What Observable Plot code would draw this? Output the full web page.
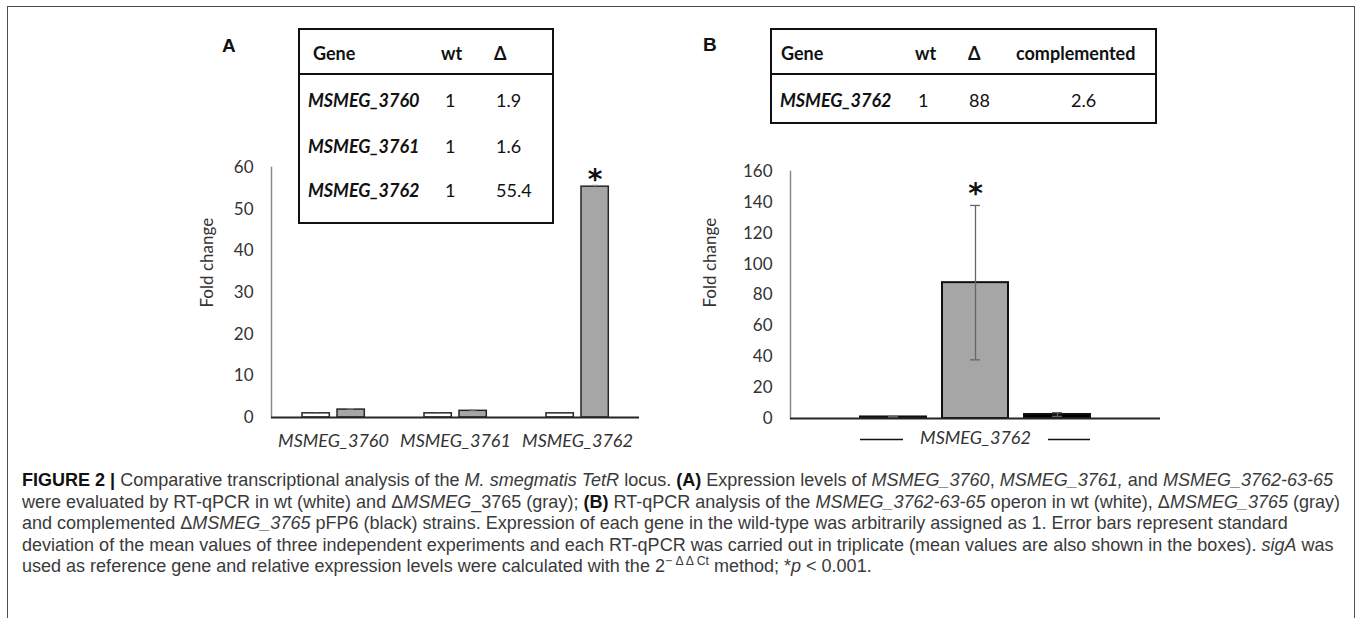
<!DOCTYPE html>
<html><head><meta charset="utf-8">
<script src="https://cdn.jsdelivr.net/npm/d3@7"></script>
<script src="https://cdn.jsdelivr.net/npm/@observablehq/plot@0.6"></script>
<style>
body{margin:0;background:#fff;}
#root{position:relative;width:1358px;height:618px;overflow:hidden;background:#fff;}
#frame{position:absolute;left:7px;top:6px;width:1348px;height:700px;border:1.5px solid #4d4d4d;box-sizing:border-box;}
.plot{position:absolute;top:0;}
.panel{position:absolute;font-family:"Liberation Sans",Arial,sans-serif;font-weight:bold;font-size:19px;color:#111;line-height:1;}
.tbl{position:absolute;border:2px solid #111;box-sizing:border-box;background:#fff;}
.sep{position:absolute;height:2px;background:#111;}
.cell{position:absolute;white-space:nowrap;font-family:Lato,sans-serif;font-size:18px;color:#111;line-height:1;transform:translateY(-50%);}
.cell.h{font-weight:bold;}
.cell.g{font-weight:bold;font-style:italic;}
#caption{position:absolute;left:22px;top:470px;font-family:"Liberation Sans Narrow","Liberation Sans",Arial,sans-serif;color:#3a3a3a;}
#caption div{white-space:nowrap;height:21.5px;line-height:21.5px;}
#caption b{color:#111;}
#caption sup{font-size:0.68em;line-height:0;}
</style></head>
<body>
<div id="root">
  <div id="frame"></div>
  <div id="plotA" class="plot" style="left:0px"></div>
  <div id="plotB" class="plot" style="left:680px"></div>
  <div id="tables"></div>
  <div class="panel" style="left:222px;top:36px">A</div>
  <div class="panel" style="left:703px;top:35px">B</div>
  <div id="caption">
    <div><b>FIGURE 2 |</b> Comparative transcriptional analysis of the <i>M. smegmatis TetR</i> locus. <b>(A)</b> Expression levels of <i>MSMEG_3760</i>, <i>MSMEG_3761,</i> and <i>MSMEG_3762-63-65</i></div>
    <div>were evaluated by RT-qPCR in wt (white) and Δ<i>MSMEG</i>_3765 (gray); <b>(B)</b> RT-qPCR analysis of the <i>MSMEG_3762-63-65</i> operon in wt (white), Δ<i>MSMEG_3765</i> (gray)</div>
    <div>and complemented Δ<i>MSMEG_3765</i> pFP6 (black) strains. Expression of each gene in the wild-type was arbitrarily assigned as 1. Error bars represent standard</div>
    <div>deviation of the mean values of three independent experiments and each RT-qPCR was carried out in triplicate (mean values are also shown in the boxes). <i>sigA</i> was</div>
    <div>used as reference gene and relative expression levels were calculated with the 2<sup>− Δ Δ Ct</sup> method; *<i>p</i> &lt; 0.001.</div>
  </div>
</div>
<script>
// ---------- data ----------
const genesA = ["MSMEG_3760", "MSMEG_3761", "MSMEG_3762"];
const wtA = [1, 1, 1];
const deltaA = [1.9, 1.6, 55.4];
const wtErrA = [0.1, 0.1, 0.1];
const deltaErrA = [0.2, 0.2, 0.3];
const sigGenesA = ["MSMEG_3762"];
const ticksA = [0, 10, 20, 30, 40, 50, 60];

const geneB = "MSMEG_3762";
const strainsB = ["wt", "Δ", "complemented"];
const valuesB = [1, 88, 2.6];
const errB = [0.3, 50, 1.2];
const sigStrainsB = ["Δ"];
const fillsB = ["#ffffff", "#a6a6a6", "#000000"];
const ticksB = [0, 20, 40, 60, 80, 100, 120, 140, 160];

const yLabel = "Fold change";

// ---------- shared style ----------
const axisFont = {fontSize: 17, fill: "#333"};
const style = {fontFamily: "Lato, sans-serif", fontSize: "17px", color: "#333", background: "transparent", overflow: "visible"};
const star = {fontSize: 28, fontWeight: "bold", fontFamily: "DejaVu Sans", fill: "#111"};

// ---------- panel A ----------
const rowsA = genesA.map((g, i) => ({gene: g, wt: wtA[i], delta: deltaA[i], wtErr: wtErrA[i], deltaErr: deltaErrA[i]}));
const plotA = Plot.plot({
  width: 680, height: 470,
  marginLeft: 271, marginRight: 41, marginTop: 167, marginBottom: 53,
  style,
  x: {domain: genesA, padding: 0},
  y: {domain: [0, 60]},
  marks: [
    Plot.axisY({ticks: ticksA, tickSize: 0, tickPadding: 18, label: null, ...axisFont}),
    Plot.frame({anchor: "left", stroke: "#8a8a8a", strokeWidth: 1.5}),
    Plot.barY(rowsA, {x: "gene", y: "wt", fill: "#ffffff", stroke: "#262626", strokeWidth: 1.5, insetLeft: 30, insetRight: 64.7}),
    Plot.barY(rowsA, {x: "gene", y: "delta", fill: "#a6a6a6", stroke: "#262626", strokeWidth: 1.5, insetLeft: 65, insetRight: 29.7}),
    Plot.ruleX(rowsA, {x: "gene", y1: d => d.wt - d.wtErr, y2: d => d.wt + d.wtErr, dx: -17.5, stroke: "#777"}),
    Plot.ruleX(rowsA, {x: "gene", y1: d => d.delta - d.deltaErr, y2: d => d.delta + d.deltaErr, dx: 17.5, stroke: "#777"}),
    Plot.tickY(rowsA, {x: "gene", y: d => d.delta + d.deltaErr, insetLeft: 75, insetRight: 40, stroke: "#888", strokeWidth: 1.2}),
    Plot.ruleY([0], {stroke: "#262626", strokeWidth: 2}),
    Plot.axisX({tickSize: 0, tickPadding: 17, label: null, fontStyle: "italic", fontSize: 18, fill: "#333"}),
    Plot.text([yLabel], {frameAnchor: "left", rotate: -90, dx: -64, dy: 15, fontSize: 17, fill: "#333"}),
    Plot.text(rowsA.filter(d => sigGenesA.includes(d.gene)), {x: "gene", y: d => d.delta + d.deltaErr, text: () => "*", dx: 17.5, dy: -5, ...star})
  ]
});
document.getElementById("plotA").append(plotA);

// ---------- panel B ----------
const rowsB = strainsB.map((s, i) => ({strain: s, value: valuesB[i], err: errB[i]}));
const plotB = Plot.plot({
  width: 500, height: 470,
  marginLeft: 110, marginRight: 20, marginTop: 171, marginBottom: 52,
  style,
  x: {domain: strainsB, paddingInner: 0.195, paddingOuter: 0.85, axis: null},
  y: {domain: [0, 160]},
  color: {domain: strainsB, range: fillsB},
  marks: [
    Plot.axisY({ticks: ticksB, tickSize: 0, tickPadding: 18, label: null, ...axisFont}),
    Plot.frame({anchor: "left", stroke: "#8a8a8a", strokeWidth: 1.5}),
    Plot.barY(rowsB, {x: "strain", y: "value", fill: "strain", stroke: "#111", strokeWidth: 2}),
    Plot.ruleX(rowsB, {x: "strain", y1: d => d.value - d.err, y2: d => d.value + d.err, stroke: "#666", strokeWidth: 1.3}),
    Plot.tickY(rowsB, {x: "strain", y: d => d.value - d.err, insetLeft: 28, insetRight: 28, stroke: "#666", strokeWidth: 1.3}),
    Plot.tickY(rowsB, {x: "strain", y: d => d.value + d.err, insetLeft: 28, insetRight: 28, stroke: "#666", strokeWidth: 1.3}),
    Plot.ruleY([0], {stroke: "#262626", strokeWidth: 2}),
    Plot.text([geneB], {frameAnchor: "bottom", dy: 25, fontStyle: "italic", fontSize: 18, fill: "#333"}),
    Plot.tickY([strainsB[0]], {x: d => d, y: () => 0, dy: 21, insetRight: 23, stroke: "#111", strokeWidth: 1.5}),
    Plot.tickY([strainsB[2]], {x: d => d, y: () => 0, dy: 21, insetLeft: 24, stroke: "#111", strokeWidth: 1.5}),
    Plot.text([yLabel], {frameAnchor: "left", rotate: -90, dx: -80, dy: 12.5, fontSize: 17, fill: "#333"}),
    Plot.text(rowsB.filter(d => sigStrainsB.includes(d.strain)), {x: "strain", y: d => d.value + d.err, text: () => "*", dy: -11, ...star})
  ]
});
document.getElementById("plotB").append(plotB);

// ---------- tables (values from the same arrays) ----------
const tables = document.getElementById("tables");
function box(l, t, w, h, sepY) {
  const b = document.createElement("div");
  b.className = "tbl";
  Object.assign(b.style, {left: l + "px", top: t + "px", width: w + "px", height: h + "px"});
  tables.append(b);
  const s = document.createElement("div");
  s.className = "sep";
  Object.assign(s.style, {left: l + "px", top: sepY + "px", width: w + "px"});
  tables.append(s);
}
function cell(txt, x, y, cls) {
  const c = document.createElement("div");
  c.className = "cell " + (cls || "");
  c.textContent = txt;
  Object.assign(c.style, {left: x + "px", top: y + "px"});
  tables.append(c);
}
box(298, 28, 256, 196, 73);
cell("Gene", 313, 53, "h"); cell("wt", 441, 53, "h"); cell("Δ", 494, 53, "h");
const rowYA = [100, 146, 190];
genesA.forEach((g, i) => {
  cell(g, 308, rowYA[i], "g");
  cell(String(wtA[i]), 445, rowYA[i]);
  cell(String(deltaA[i]), 496, rowYA[i]);
});
box(770, 28, 387, 96, 73);
cell("Gene", 781, 53, "h"); cell("wt", 915, 53, "h"); cell("Δ", 968, 53, "h"); cell("complemented", 1016, 53, "h");
cell(geneB, 780, 100, "g");
cell(String(valuesB[0]), 918, 100);
cell(String(valuesB[1]), 969, 100);
cell(String(valuesB[2]), 1071, 100);

// ---------- caption: fit first line width ----------
const cap = document.getElementById("caption");
cap.style.fontSize = "16px";
const first = cap.querySelector("div");
const span = document.createElement("span");
span.innerHTML = first.innerHTML;
first.innerHTML = "";
first.append(span);
const w = span.getBoundingClientRect().width;
cap.style.fontSize = (16 * 1312 / w).toFixed(2) + "px";
</script>
</body></html>
